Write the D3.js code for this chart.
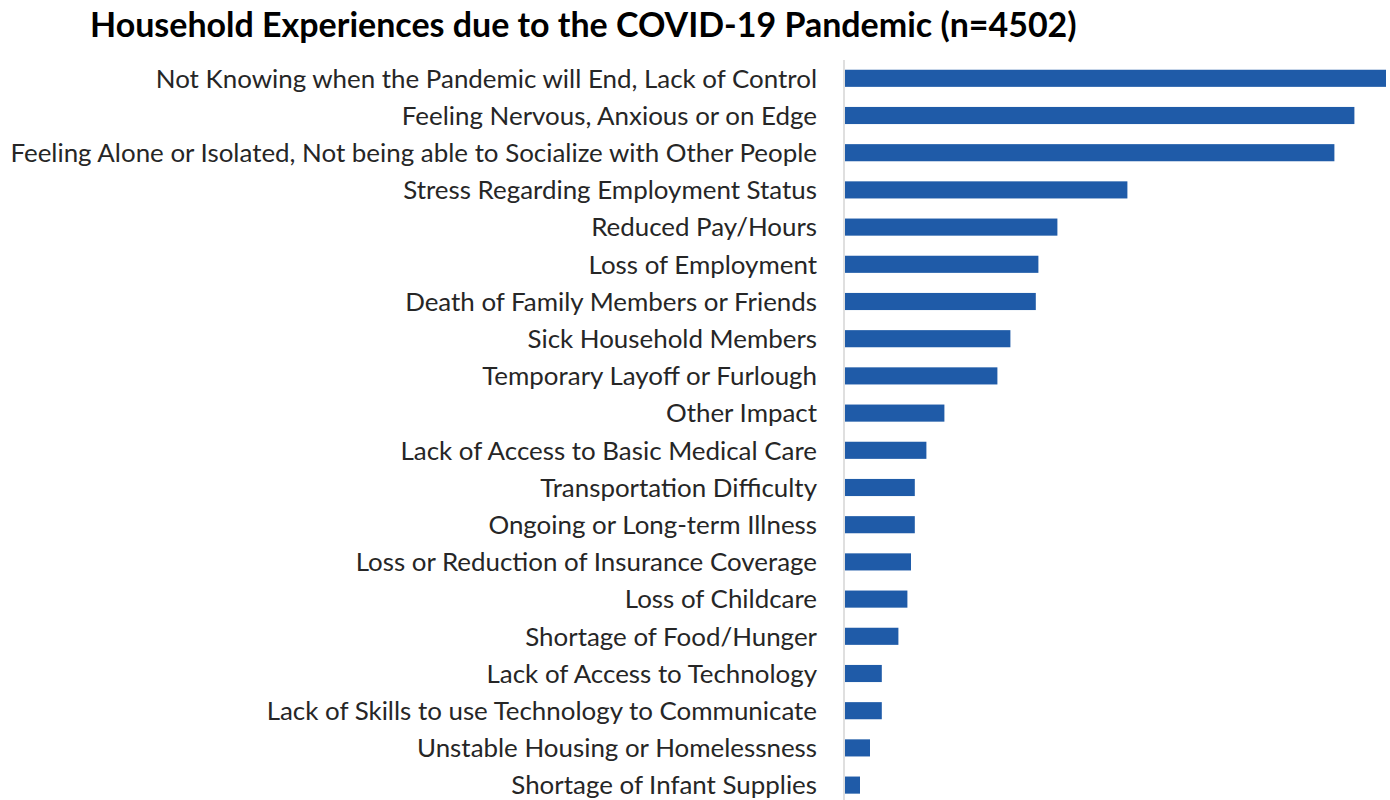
<!DOCTYPE html>
<html>
<head>
<meta charset="utf-8">
<script src="https://cdn.jsdelivr.net/npm/d3@7"></script>
<style>
  body { margin: 0; background: #fff; }
  svg { display: block; }
</style>
</head>
<body>
<svg class="chart"></svg>
<script>
// experiences, top to bottom
var categories = [
  "Not Knowing when the Pandemic will End, Lack of Control",
  "Feeling Nervous, Anxious or on Edge",
  "Feeling Alone or Isolated, Not being able to Socialize with Other People",
  "Stress Regarding Employment Status",
  "Reduced Pay/Hours",
  "Loss of Employment",
  "Death of Family Members or Friends",
  "Sick Household Members",
  "Temporary Layoff or Furlough",
  "Other Impact",
  "Lack of Access to Basic Medical Care",
  "Transportation Difficulty",
  "Ongoing or Long-term Illness",
  "Loss or Reduction of Insurance Coverage",
  "Loss of Childcare",
  "Shortage of Food/Hunger",
  "Lack of Access to Technology",
  "Lack of Skills to use Technology to Communicate",
  "Unstable Housing or Homelessness",
  "Shortage of Infant Supplies"
];

// estimated number of households (no axis in source)
var counts = [2705, 2547, 2447, 1412, 1062, 967, 954, 827, 762, 497,
              407, 349, 349, 330, 312, 267, 184, 184, 125, 75];

var titleText = "Household Experiences due to the COVID-19 Pandemic (n=4502)";

var W = 1390, H = 800;
var axisX = 844;

var data = categories.map(function(c, i) { return {name: c, value: counts[i]}; });

var x = d3.scaleLinear()
    .domain([0, d3.max(counts)])
    .range([axisX + 1, 1386]);

var y = d3.scaleBand()
    .domain(categories)
    .range([59.7, 803.7])
    .paddingInner(0.54)
    .paddingOuter(0.27);

var svg = d3.select(".chart")
    .attr("width", W)
    .attr("height", H);

// title
var title = svg.append("text")
    .attr("x", 90)
    .attr("y", 37)
    .style("font-family", "Lato, 'Open Sans', sans-serif")
    .style("font-weight", "bold")
    .style("font-size", "30px")
    .style("fill", "#000")
    .text(titleText);

var tw = title.node().getComputedTextLength();
title.style("font-size", (30 * 987 / tw) + "px");

// bars
svg.selectAll(".bar")
    .data(data)
  .enter().append("rect")
    .attr("class", "bar")
    .attr("x", x(0))
    .attr("y", function(d) { return y(d.name); })
    .attr("width", function(d) { return x(d.value) - x(0); })
    .attr("height", y.bandwidth())
    .attr("fill", "#1f5ba8");

// category labels
var labels = svg.selectAll(".label")
    .data(data)
  .enter().append("text")
    .attr("class", "label")
    .attr("x", 817)
    .attr("y", function(d) { return y(d.name) + y.bandwidth() / 2; })
    .attr("dy", "0.36em")
    .style("text-anchor", "end")
    .style("font-family", "Lato, 'Open Sans', sans-serif")
    .style("font-size", "22px")
    .style("fill", "#262626")
    .text(function(d) { return d.name; });

var longest = d3.max(labels.nodes(), function(n) { return n.getComputedTextLength(); });
labels.style("font-size", (22 * 807 / longest) + "px");

// vertical axis line
svg.append("line")
    .attr("x1", axisX)
    .attr("x2", axisX)
    .attr("y1", 60)
    .attr("y2", H)
    .attr("stroke", "#d4d4d4")
    .attr("stroke-width", 1.5);
</script>
</body>
</html>
